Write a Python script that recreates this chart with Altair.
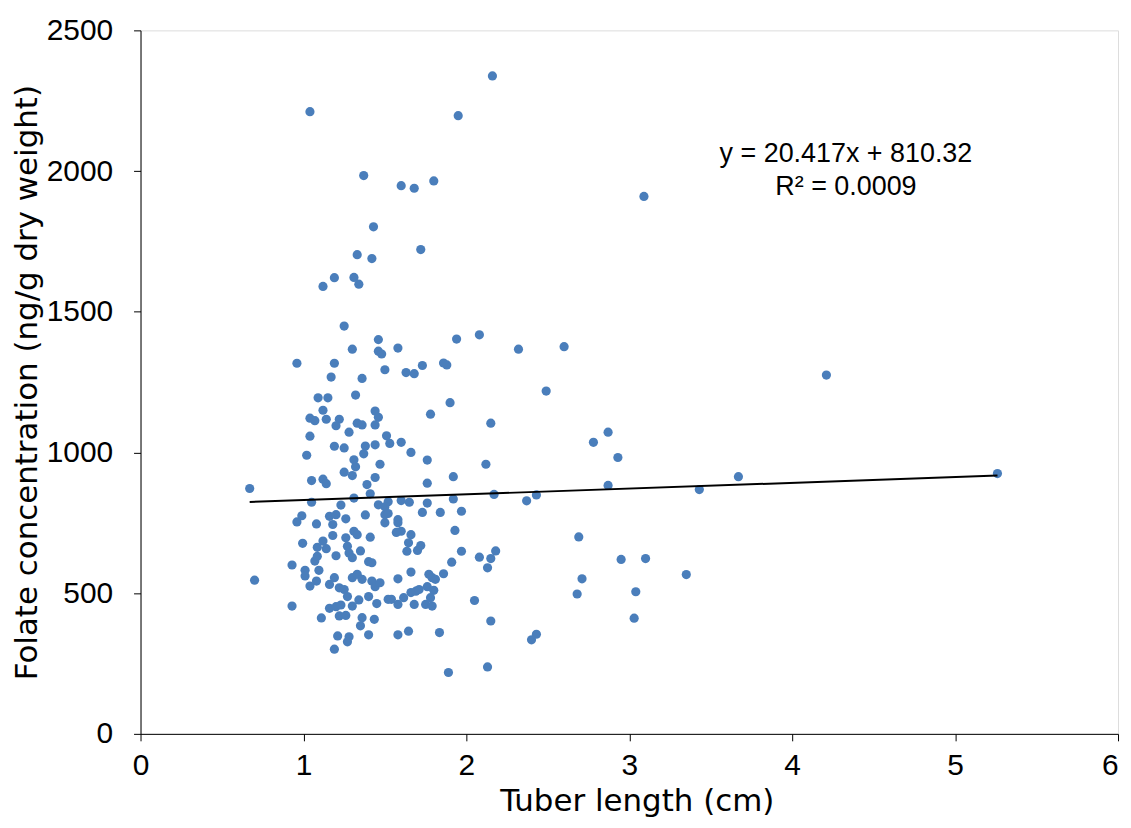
import altair as alt
import pandas as pd

# Tuber length (cm)
tuber_length = [
    2.16, 1.04, 1.95, 1.37, 1.60, 1.68, 1.80, 1.43, 1.33, 1.42, 1.72, 1.19, 1.31, 1.34, 1.12, 1.25, 1.46, 1.94, 2.08,
    3.09, 4.21, 5.26,
    1.30, 1.46, 1.48, 0.96, 1.19, 1.50, 1.17, 1.36, 1.09, 1.15, 1.32, 1.12, 1.44, 1.04, 1.07, 1.14, 1.22, 1.20, 1.33,
    1.36, 1.46, 1.44, 1.28, 1.04, 1.51, 1.19, 1.25, 1.38, 1.44, 1.02, 1.37, 1.31, 1.32, 1.47, 1.25, 1.30, 1.05, 1.12,
    1.14, 1.44, 1.39, 0.67, 1.41, 1.31, 1.05, 1.23, 1.46, 0.99, 1.16, 1.20, 1.38, 1.26, 1.50,
    1.58, 2.32, 1.63, 1.68, 1.73, 1.88, 1.86, 1.90, 1.78, 2.15, 1.53, 1.60, 1.66, 1.76, 2.12, 1.92, 1.76, 2.17, 1.60,
    1.65, 1.76, 1.92, 2.37, 1.52, 1.50, 1.52, 1.73, 1.84, 1.97, 1.58,
    0.96, 1.08, 1.18, 1.50, 1.18, 0.995, 1.085, 1.12, 1.26, 1.31, 1.33, 1.41, 1.14, 1.27, 1.28, 1.30, 1.20, 1.35, 1.07,
    1.085, 0.93, 1.40, 1.42, 1.01, 1.01, 1.095, 0.70, 1.04, 1.08, 1.16, 1.19, 1.22, 1.25, 1.27, 1.30, 1.33, 1.36, 1.42,
    1.44, 1.47, 0.93, 1.11, 1.16, 1.20, 1.23, 1.22, 1.26, 1.30, 1.34, 1.40, 1.45, 1.36, 1.35, 1.435, 1.21, 1.28, 1.27,
    1.40, 1.19, 1.52,
    1.58, 1.60, 1.57, 1.66, 1.645, 1.93, 1.635, 1.70, 1.72, 1.97, 1.91, 2.08, 2.15, 2.18, 2.13, 1.58, 1.66, 1.77, 1.79,
    1.81, 1.86, 1.54, 1.58, 1.615, 1.66, 1.69, 1.71, 1.76, 1.80, 1.68, 1.75, 1.79, 1.78, 2.05, 2.15, 1.58, 1.645, 1.835,
    2.40, 2.43, 1.89, 2.13,
    2.60, 2.49, 2.78, 2.87, 2.93, 2.87, 2.43, 3.43, 3.67, 2.69, 2.95, 3.10, 2.71, 2.68, 3.35, 3.04, 3.03,
]

# Folate concentration (ng/g dry weight)
folate = [
    2338, 2211, 2197, 1984, 1948, 1939, 1965, 1802, 1703, 1689, 1721, 1621, 1622, 1598, 1590, 1449, 1401, 1403, 1418,
    1910, 1275, 925,
    1367, 1360, 1350, 1317, 1317, 1294, 1268, 1263, 1194, 1194, 1204, 1150, 1147, 1122, 1113, 1118, 1118, 1095, 1104,
    1098, 1125, 1098, 1072, 1058, 1059, 1022, 1016, 1023, 1027, 990, 995, 974, 949, 958, 930, 918, 900, 905,
    889, 911, 886, 872, 853, 838, 823, 813, 814, 775, 773, 779, 778, 764, 779,
    1371, 1367, 1284, 1280, 1309, 1311, 1318, 1177, 1136, 1104, 1032, 1036, 1000, 973, 958, 914, 891, 851, 829,
    823, 820, 835, 828, 825, 807, 783, 787, 787, 791, 761,
    753, 746, 744, 750, 705, 677, 663, 685, 697, 720, 708, 699, 658, 667, 643, 626, 633, 650, 614,
    631, 600, 612, 608, 581, 561, 581, 546, 525, 543, 531, 555, 519, 513, 488, 555, 567, 549, 543,
    523, 537, 454, 412, 446, 452, 458, 419, 421, 454, 476, 488, 463, 413, 384, 407, 348, 345, 327,
    352, 301, 478,
    750, 720, 716, 708, 679, 723, 649, 652, 669, 649, 610, 628, 623, 650, 590, 551, 575, 567, 555,
    549, 569, 478, 460, 484, 502, 507, 513, 523, 510, 460, 460, 454, 484, 474, 401, 352, 365, 360,
    334, 354, 218, 238,
    1376, 1218, 1036, 1072, 982, 883, 849, 868, 914, 700, 620, 623, 551, 497, 566, 505, 411,
]

# Linear trend (as printed on the chart)
SLOPE = 20.417
INTERCEPT = 810.32
EQ_LABELS = ["y = 20.417x  + 810.32", "R² = 0.0009"]

x_ticks = [0, 1, 2, 3, 4, 5, 6]
y_ticks = [0, 500, 1000, 1500, 2000, 2500]

FONT = "Liberation Sans"
TITLE_FONT = "DejaVu Sans"

df = pd.DataFrame({"x": tuber_length, "y": folate})
xmin, xmax = min(tuber_length), max(tuber_length)
trend = pd.DataFrame({"x": [xmin, xmax], "y": [SLOPE * xmin + INTERCEPT, SLOPE * xmax + INTERCEPT]})
labels = pd.DataFrame({"x": [4.33, 4.33], "y": [2060, 1945], "t": EQ_LABELS})

xscale = alt.Scale(domain=[0, 6], nice=False)
yscale = alt.Scale(domain=[0, 2500], nice=False)

xaxis = alt.Axis(
    title="Tuber length (cm)", values=x_ticks, format="d", grid=False, domainColor="black", tickColor="black",
    tickSize=7, labelPadding=10, labelFlush=False, labelFont=FONT, labelFontSize=30, labelColor="black",
    labelAlign=alt.ExprRef(expr="datum.value == 6 ? 'right' : 'center'"),
    titleFont=TITLE_FONT, titleFontSize=31, titleFontWeight="normal", titleColor="black",
    titleX=498, titleY=68, titleBaseline="middle", titleAlign="center",
)
yaxis = alt.Axis(
    title="Folate concentration (ng/g dry weight)", values=y_ticks, format="d", grid=False, domainColor="black",
    tickColor="black", tickSize=7, labelPadding=21, labelFlush=False, labelFont=FONT, labelFontSize=30,
    labelColor="black",
    titleFont=TITLE_FONT, titleFontSize=31, titleFontWeight="normal", titleColor="black",
    titleX=-113, titleY=353, titleBaseline="middle", titleAlign="center", titleAngle=-90,
)

points = alt.Chart(df).mark_circle(size=85, color="#4A7EBB", opacity=1).encode(
    x=alt.X("x:Q", scale=xscale, axis=xaxis),
    y=alt.Y("y:Q", scale=yscale, axis=yaxis),
)

line = alt.Chart(trend).mark_line(color="black", strokeWidth=2).encode(
    x=alt.X("x:Q", scale=xscale),
    y=alt.Y("y:Q", scale=yscale),
)

text = alt.Chart(labels).mark_text(font=FONT, fontSize=27, color="black", align="center", baseline="middle").encode(
    x=alt.X("x:Q", scale=xscale),
    y=alt.Y("y:Q", scale=yscale),
    text="t:N",
)

chart = (
    alt.layer(points, line, text)
    .properties(
        width=981,
        height=706,
        autosize=alt.AutoSizeParams(type="none"),
        padding={"left": 133, "top": 21, "right": 5, "bottom": 85},
    )
    .configure_view(stroke="black", strokeWidth=1)
    .configure(background="white")
)

chart.save("out.html", embed_options={"renderer": "svg", "actions": False})
